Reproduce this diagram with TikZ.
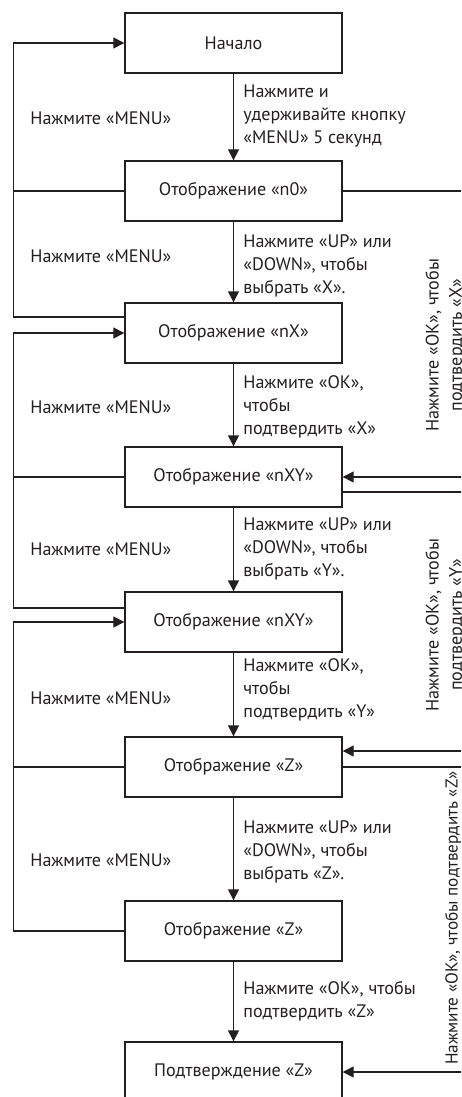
\documentclass[tikz,border=0pt]{standalone}
\usepackage{fontspec}
\setmainfont{PT Sans}
\usetikzlibrary{arrows.meta}
\definecolor{ink}{HTML}{231F20}
\tikzset{
  box/.style={draw=ink,line width=0.8pt,minimum width=43.4mm,minimum height=12mm,inner sep=0pt},
  lbl/.style={anchor=west,align=left,inner sep=0pt},
  rot/.style={rotate=90,align=center,inner sep=0pt},
  arr/.style={draw=ink,line width=0.8pt,-{Triangle[length=2.2mm,width=2.2mm]}},
  ln/.style={draw=ink,line width=0.8pt}
}
\begin{document}
\begin{tikzpicture}[x=0.2mm,y=-0.2mm,color=ink,
  font=\fontsize{10.3}{13.1}\selectfont]
\clip (0,0) rectangle (461,1097);
\node[box] (start) at (233.5,43) {Начало};
\node[box] (n0) at (233.5,191) {Отображение «n0»};
\node[box] (nX) at (233.5,333) {Отображение «nX»};
\node[box] (nXYa) at (233.5,477) {Отображение «nXY»};
\node[box] (nXYb) at (233.5,622) {Отображение «nXY»};
\node[box] (Za) at (233.5,767) {Отображение «Z»};
\node[box] (Zb) at (233.5,931) {Отображение «Z»};
\node[box] (conf) at (233.5,1072) {Подтверждение «Z»};
\draw[arr] (start) -- (n0);
\draw[arr] (n0) -- (nX);
\draw[arr] (nX) -- (nXYa);
\draw[arr] (nXYa) -- (nXYb);
\draw[arr] (nXYb) -- (Za);
\draw[arr] (Za) -- (Zb);
\draw[arr] (Zb) -- (conf);
\node[lbl] (t1) at (243,116) {Нажмите и\\удерживайте кнопку\\«MENU» 5 секунд};
\node[lbl] (t2) at (243,266) {Нажмите «UP» или\\«DOWN», чтобы\\выбрать «X».};
\node[lbl] (t3) at (243,407) {Нажмите «OK»,\\чтобы\\подтвердить «X»};
\node[lbl] (t4) at (243,549) {Нажмите «UP» или\\«DOWN», чтобы\\выбрать «Y».};
\node[lbl] (t5) at (243,690) {Нажмите «OK»,\\чтобы\\подтвердить «Y»};
\node[lbl] (t6) at (243,852) {Нажмите «UP» или\\«DOWN», чтобы\\выбрать «Z».};
\node[lbl] (t7) at (243,1001) {Нажмите «OK», чтобы\\подтвердить «Z»};
\node[lbl] (m1) at (30,118) {Нажмите «MENU»};
\node[lbl] (m2) at (30,256) {Нажмите «MENU»};
\node[lbl] (m3) at (30,407) {Нажмите «MENU»};
\node[lbl] (m4) at (30,549) {Нажмите «MENU»};
\node[lbl] (m5) at (30,698) {Нажмите «MENU»};
\node[lbl] (m6) at (30,860) {Нажмите «MENU»};
\draw[arr] ([yshift=3.2mm]nX.west) -- ++(-111,0) |- (start.west);
\draw[ln] (n0.west) -- ++(-111,0);
\draw[arr] ([yshift=2.8mm]nXYb.west) -- ++(-111,0) |- (nX.west);
\draw[ln] (nXYa.west) -- ++(-111,0);
\draw[arr] (Zb.west) -- ++(-111,0) |- (nXYb.west);
\draw[ln] (Za.west) -- ++(-111,0);
\draw[arr] (n0.east) -- ++(133,0) |- (nXYa.east);
\draw[arr] ([yshift=-3mm]nXYa.east) -- ++(133,0) |- ([yshift=3.2mm]Za.east);
\draw[arr] (Za.east) -- ++(133,0) |- (conf.east);
\node[rot] (r1) at (445.5,345) {Нажмите «OK», чтобы\\подтвердить «X»};
\node[rot] (r2) at (445.5,625) {Нажмите «OK», чтобы\\подтвердить «Y»};
\node[rot,font=\fontsize{9.8}{12.5}\selectfont] (r3) at (453,918) {Нажмите «OK», чтобы подтвердить «Z»};
\end{tikzpicture}
\end{document}
